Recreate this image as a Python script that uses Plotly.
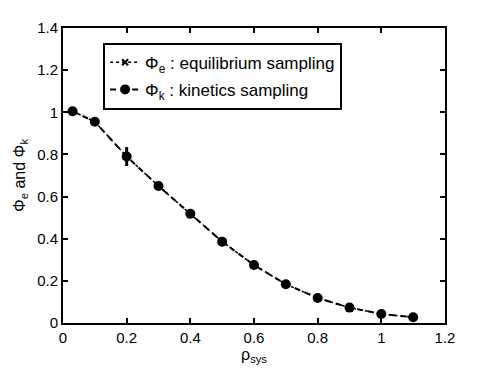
import plotly.graph_objects as go

rho = [0.03, 0.1, 0.2, 0.3, 0.4, 0.5, 0.6, 0.7, 0.8, 0.9, 1.0, 1.1]
phi_e = [1.005, 0.955, 0.79, 0.65, 0.518, 0.386, 0.275, 0.184, 0.119, 0.073, 0.043, 0.027]
phi_k = [1.005, 0.955, 0.79, 0.65, 0.518, 0.386, 0.275, 0.184, 0.119, 0.073, 0.043, 0.027]
phi_k_err = [0, 0.01, 0.045, 0, 0, 0, 0, 0, 0, 0, 0, 0]

font = "Liberation Sans, Arial, sans-serif"

fig = go.Figure()

fig.add_trace(go.Scatter(x=rho, y=phi_e, mode="lines+markers",
                         name="Φ<sub>e</sub> : equilibrium sampling",
                         legendgroup="e",
                         line=dict(color="black", width=1.5, dash="dot"),
                         marker=dict(symbol="x-thin", size=6,
                                     line=dict(color="black", width=2))))

fig.add_trace(go.Scatter(x=rho, y=phi_k, mode="lines+markers",
                         name="Φ<sub>k</sub> : kinetics sampling",
                         legendgroup="k",
                         line=dict(color="black", width=2, dash="6px,5px"),
                         marker=dict(symbol="circle", size=10, color="black"),
                         error_y=dict(type="data", array=phi_k_err,
                                      color="black", thickness=3, width=0)))

axis = dict(showline=True, linecolor="black", linewidth=2, mirror="ticks",
            ticks="inside", ticklen=5, tickwidth=1.5, tickcolor="black",
            showgrid=False, zeroline=False, automargin=False,
            tickfont=dict(family=font, size=15, color="black"))

fig.update_xaxes(axis, range=[0, 1.2],
                 tickvals=[0, 0.2, 0.4, 0.6, 0.8, 1, 1.2],
                 ticktext=["0", "0.2", "0.4", "0.6", "0.8", "1", "1.2"],
                 title=dict(text="ρ<sub>sys</sub>", standoff=3,
                            font=dict(family=font, size=16, color="black")))
fig.update_yaxes(axis, range=[0, 1.4],
                 tickvals=[0, 0.2, 0.4, 0.6, 0.8, 1, 1.2, 1.4],
                 ticktext=["0", "0.2", "0.4", "0.6", "0.8", "1", "1.2", "1.4"],
                 title=dict(text="Φ<sub>e</sub> and Φ<sub>k</sub>", standoff=8,
                            font=dict(family=font, size=16, color="black")))

fig.update_layout(width=491, height=369,
                  margin=dict(l=63, r=46, t=28, b=46),
                  paper_bgcolor="white", plot_bgcolor="white",
                  font=dict(family=font, size=15, color="black"),
                  showlegend=True,
                  legend=dict(x=0.105, y=0.95, xanchor="left", yanchor="top",
                              bgcolor="white", bordercolor="black", borderwidth=2,
                              font=dict(family=font, size=17, color="black"),
                              tracegroupgap=2, itemwidth=30))

# page has a default body margin, drop it so the figure sits at 0,0
fig.write_html("out.html", config={"displayModeBar": False},
               post_script="document.body.style.margin='0';")
